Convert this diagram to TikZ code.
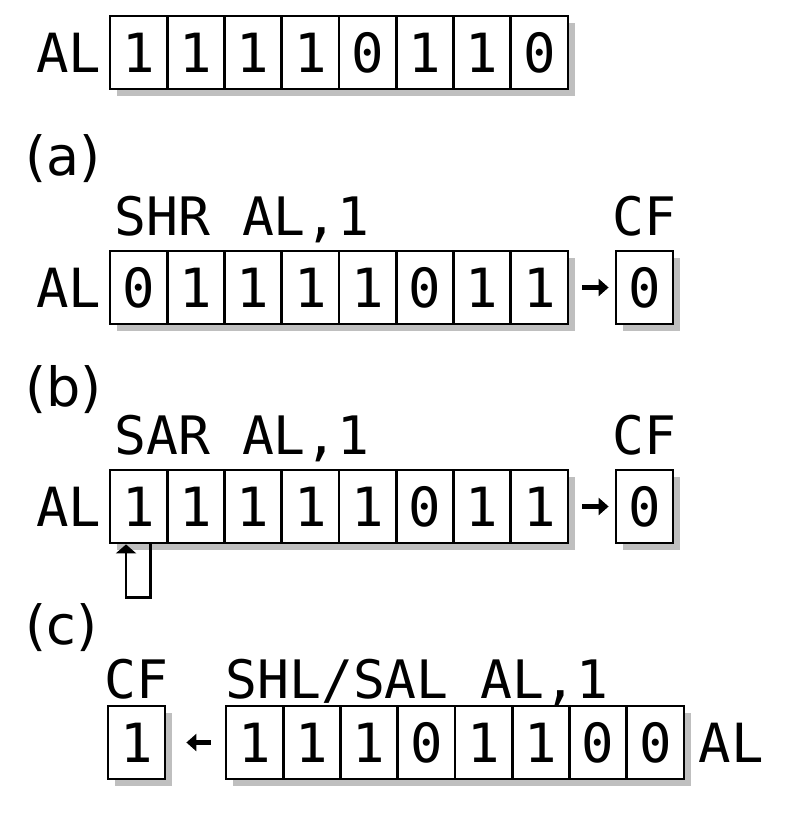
\documentclass[tikz,border=0pt]{standalone}
\usepackage{fontspec}
\setmainfont{DejaVu Sans}
\setmonofont{DejaVu Sans Mono}
\usetikzlibrary{arrows.meta,shadows,positioning}

\begin{document}
\begin{tikzpicture}[x=0.5pt, y=-0.5pt,
	bit/.style={draw, line width=1.4pt, fill=white, minimum width=28.625pt, minimum height=36.5pt, inner sep=0pt,
		font=\fontsize{27}{32}\selectfont\ttfamily,
		drop shadow={shadow xshift=3.5pt, shadow yshift=-3.5pt, fill=black!25, opacity=1}},
	reglabel/.style={font=\fontsize{27}{32}\selectfont\ttfamily, inner sep=0pt},
	part/.style={font=\fontsize{27}{32}\selectfont, inner sep=0pt, anchor=base west},
	instr/.style={font=\fontsize{26.5}{32}\selectfont\ttfamily, inner sep=0pt, anchor=base west},
	flaglabel/.style={font=\fontsize{26.5}{32}\selectfont\ttfamily, inner sep=0pt, anchor=base},
	outarrow/.style={line width=2.5pt, -{Triangle[length=5pt, width=8.5pt]}},
	feedback/.style={line width=1.4pt, -{Triangle[length=4.5pt, width=10pt]}}]
	\useasboundingbox (0,0) rectangle (800,820);
	
	\foreach \b [count=\i] in {1,1,1,1,0,1,1,0}
		\node[bit] (r1-\i) at ({110+57.25*(\i-0.5)},52.5) {\b};
	\node[reglabel, left=3.5pt of r1-1] (al1) {AL};
	
	\node[part] (pa) at (25,175) {(a)};
	\node[instr] (shr) at (114,235) {SHR AL,1};
	\node[flaglabel] (cfa) at (644.5,235) {CF};
	\foreach \b [count=\i] in {0,1,1,1,1,0,1,1}
		\node[bit] (r2-\i) at ({110+57.25*(\i-0.5)},287.5) {\b};
	\node[reglabel, left=3.5pt of r2-1] (al2) {AL};
	\node[bit, minimum width=28.5pt] (cf2) at (644.5,287.5) {0};
	\draw[outarrow, shorten <=6.5pt, shorten >=3pt] (r2-8) -- (cf2);
	
	\node[part] (pb) at (25,406) {(b)};
	\node[instr] (sar) at (114,454) {SAR AL,1};
	\node[flaglabel] (cfb) at (644.5,454) {CF};
	\foreach \b [count=\i] in {1,1,1,1,1,0,1,1}
		\node[bit] (r3-\i) at ({110+57.25*(\i-0.5)},506.5) {\b};
	\node[reglabel, left=3.5pt of r3-1] (al3) {AL};
	\node[bit, minimum width=28.5pt] (cf3) at (644.5,506.5) {0};
	\draw[outarrow, shorten <=6.5pt, shorten >=3pt] (r3-8) -- (cf3);
	\draw[feedback] ([xshift=6pt]r3-1.south) -- ++(0,53) -| ([xshift=-6.3pt]r3-1.south);
	
	\node[part] (pc) at (25,644) {(c)};
	\node[flaglabel] (cfc) at (136.5,698) {CF};
	\node[instr] (shl) at (225,698) {SHL/SAL AL,1};
	\node[bit, minimum width=28.5pt] (cf4) at (136.5,742.5) {1};
	\foreach \b [count=\i] in {1,1,1,0,1,1,0,0}
		\node[bit] (r4-\i) at ({226+57.25*(\i-0.5)},742.5) {\b};
	\node[reglabel, right=6.5pt of r4-8] (al4) {AL};
	\draw[outarrow, shorten <=7pt, shorten >=10pt] (r4-1) -- (cf4);
\end{tikzpicture}
\end{document}
